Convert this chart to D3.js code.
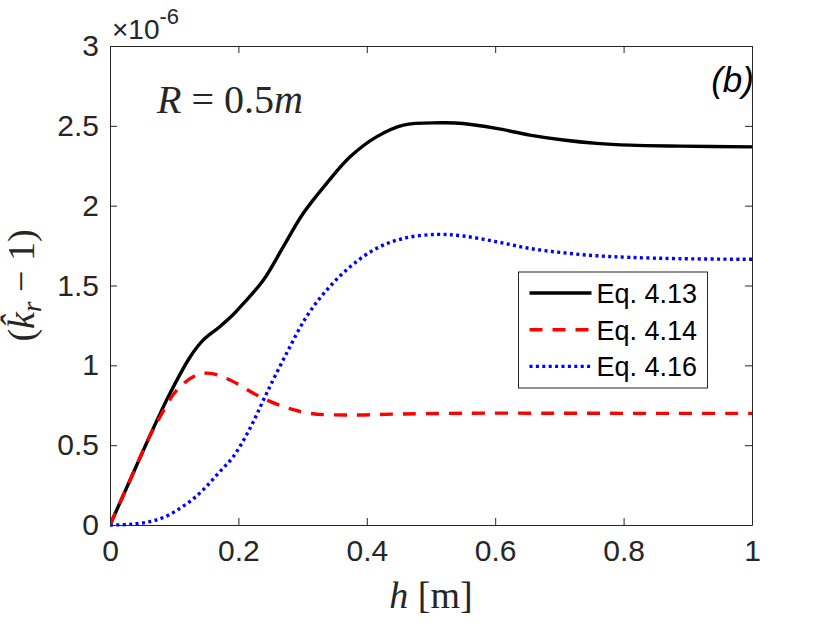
<!DOCTYPE html>
<html lang="en">
<head>
  <meta charset="UTF-8" />
  <title>k_r - 1 vs h</title>
  <script src="https://d3js.org/d3.v7.min.js"></script>
  <style>
    body { margin: 0; background: #fff; }
    svg { display: block; }
    .tick text { font-family: "Liberation Sans", Arial, sans-serif; fill: #262626; }
    .math { font-family: "Liberation Serif", "Times New Roman", serif; fill: #262626; }
  </style>
</head>
<body>
<script>
// series (y in units of 1e-6)
const hBlack = [0, 0.02, 0.04, 0.0675, 0.0935, 0.125, 0.145, 0.171, 0.19, 0.208, 0.239, 0.27, 0.301, 0.3375, 0.374, 0.415, 0.457, 0.514, 0.55, 0.602, 0.654, 0.706, 0.758, 0.81, 0.888, 1.0];
const eq413  = [0, 0.18, 0.36, 0.606, 0.825, 1.054, 1.158, 1.242, 1.31, 1.388, 1.534, 1.743, 1.952, 2.14, 2.306, 2.431, 2.505, 2.519, 2.515, 2.484, 2.442, 2.411, 2.39, 2.379, 2.373, 2.368];

const hRed  = [0, 0.02, 0.04, 0.06, 0.078, 0.104, 0.135, 0.156, 0.187, 0.2285, 0.27, 0.3115, 0.374, 0.45, 0.55, 0.7, 0.85, 1.0];
const eq414 = [0, 0.18, 0.36, 0.54, 0.678, 0.845, 0.939, 0.95, 0.908, 0.814, 0.741, 0.699, 0.689, 0.695, 0.70, 0.70, 0.699, 0.699];

const hBlue = [0, 0.03, 0.062, 0.085, 0.109, 0.13, 0.15, 0.17, 0.192, 0.218, 0.244, 0.275, 0.306, 0.3375, 0.374, 0.415, 0.457, 0.509, 0.55, 0.602, 0.654, 0.706, 0.758, 0.81, 0.888, 1.0];
const eq416 = [0, 0.004, 0.021, 0.05, 0.104, 0.165, 0.24, 0.33, 0.428, 0.605, 0.825, 1.075, 1.304, 1.471, 1.617, 1.732, 1.795, 1.82, 1.81, 1.774, 1.732, 1.705, 1.686, 1.676, 1.668, 1.664];

const xTicks = [0, 0.2, 0.4, 0.6, 0.8, 1];
const yTicks = [0, 0.5, 1, 1.5, 2, 2.5, 3];
const legendLabels = ["Eq. 4.13", "Eq. 4.14", "Eq. 4.16"];

const W = 830, H = 623;
const margin = { left: 110, right: 78, top: 46, bottom: 98 };
const iw = W - margin.left - margin.right, ih = H - margin.top - margin.bottom;
const axisColor = "#262626";

const svg = d3.select("body").append("svg").attr("width", W).attr("height", H);
svg.append("rect").attr("width", W).attr("height", H).attr("fill", "#fff");

const x = d3.scaleLinear().domain([0, 1]).range([margin.left, margin.left + iw]);
const y = d3.scaleLinear().domain([0, 3]).range([margin.top + ih, margin.top]);

svg.append("defs").append("clipPath").attr("id", "clip")
  .append("rect").attr("x", margin.left).attr("y", margin.top - 2).attr("width", iw + 2).attr("height", ih + 4);

const series = [
  { h: hBlack, v: eq413, color: "#000", dash: null },
  { h: hRed,   v: eq414, color: "#ff0000", dash: "13,10" },
  { h: hBlue,  v: eq416, color: "#0000ff", dash: "3,3.4" }
];

const line = d3.line().x(d => x(d[0])).y(d => y(d[1])).curve(d3.curveCatmullRom.alpha(0.5));

const plot = svg.append("g").attr("clip-path", "url(#clip)");
[series[0], series[2], series[1]].forEach(s => {
  plot.append("path")
    .datum(s.h.map((h, i) => [h, s.v[i]]))
    .attr("fill", "none")
    .attr("stroke", s.color)
    .attr("stroke-width", 3.4)
    .attr("stroke-dasharray", s.dash)
    .attr("d", line);
});

// axes (ticks inside, mirrored on top/right)
function styleAxis(g) {
  g.select(".domain").attr("stroke", axisColor).attr("stroke-width", 1);
  g.selectAll(".tick line").attr("stroke", axisColor).attr("stroke-width", 1);
}
svg.append("g").attr("transform", `translate(0,${margin.top + ih})`)
  .call(d3.axisBottom(x).tickValues(xTicks).tickFormat(d3.format("")).tickSizeInner(-7).tickSizeOuter(0).tickPadding(15))
  .call(styleAxis)
  .call(g => g.selectAll(".tick text").attr("font-size", 30).attr("dy", "0.71em"));
svg.append("g").attr("transform", `translate(0,${margin.top})`)
  .call(d3.axisTop(x).tickValues(xTicks).tickFormat("").tickSizeInner(-7).tickSizeOuter(0))
  .call(styleAxis);
svg.append("g").attr("transform", `translate(${margin.left},0)`)
  .call(d3.axisLeft(y).tickValues(yTicks).tickFormat(d3.format("")).tickSizeInner(-7).tickSizeOuter(0).tickPadding(11))
  .call(styleAxis)
  .call(g => g.selectAll(".tick text").attr("font-size", 30));
svg.append("g").attr("transform", `translate(${margin.left + iw},0)`)
  .call(d3.axisRight(y).tickValues(yTicks).tickFormat("").tickSizeInner(-7).tickSizeOuter(0))
  .call(styleAxis);

// exponent
const ex = svg.append("text").attr("x", 112).attr("y", 39)
  .attr("font-family", "Liberation Sans, Arial, sans-serif").attr("fill", axisColor).attr("font-size", 28);
ex.append("tspan").text("×10");
ex.append("tspan").attr("dy", -15).attr("font-size", 22).text("-6");

// annotation R = 0.5m
const ann = svg.append("text").attr("class", "math").attr("x", 157).attr("y", 113).attr("font-size", 40);
ann.append("tspan").attr("font-style", "italic").text("R");
ann.append("tspan").text(" = 0.5");
ann.append("tspan").attr("font-style", "italic").text("m");

// panel tag
svg.append("text").attr("x", 754).attr("y", 92).attr("text-anchor", "end")
  .attr("font-family", "Liberation Sans, Arial, sans-serif").attr("font-style", "italic")
  .attr("font-size", 35).attr("fill", "#000").text("(b)");

// x label
const xl = svg.append("text").attr("class", "math").attr("x", x(0.5)).attr("y", 608)
  .attr("text-anchor", "middle").attr("font-size", 38);
xl.append("tspan").attr("font-style", "italic").text("h");
xl.append("tspan").text("  [m]");

// y label
const yl = svg.append("text").attr("class", "math")
  .attr("transform", `translate(34,${y(1.5)}) rotate(-90)`)
  .attr("text-anchor", "middle").attr("font-size", 38);
yl.append("tspan").text("(");
yl.append("tspan").attr("font-style", "italic").text("k\u0302");
yl.append("tspan").attr("font-style", "italic").attr("font-size", 27).attr("dy", 7).text("r");
yl.append("tspan").attr("dy", -7).text(" \u2212 1)");

// legend
const lg = svg.append("g").attr("transform", "translate(518.5,272)");
lg.append("rect").attr("width", 189).attr("height", 116)
  .attr("fill", "#fff").attr("stroke", axisColor).attr("stroke-width", 1);
series.forEach((s, i) => {
  const cy = 21 + i * 36.7;
  lg.append("line").attr("x1", 11).attr("x2", 73).attr("y1", cy).attr("y2", cy)
    .attr("stroke", s.color).attr("stroke-width", 3.4).attr("stroke-dasharray", s.dash);
  lg.append("text").attr("x", 78).attr("y", cy + 10)
    .attr("font-family", "Liberation Sans, Arial, sans-serif").attr("font-size", 27)
    .attr("fill", "#000").text(legendLabels[i]);
});
</script>
</body>
</html>
